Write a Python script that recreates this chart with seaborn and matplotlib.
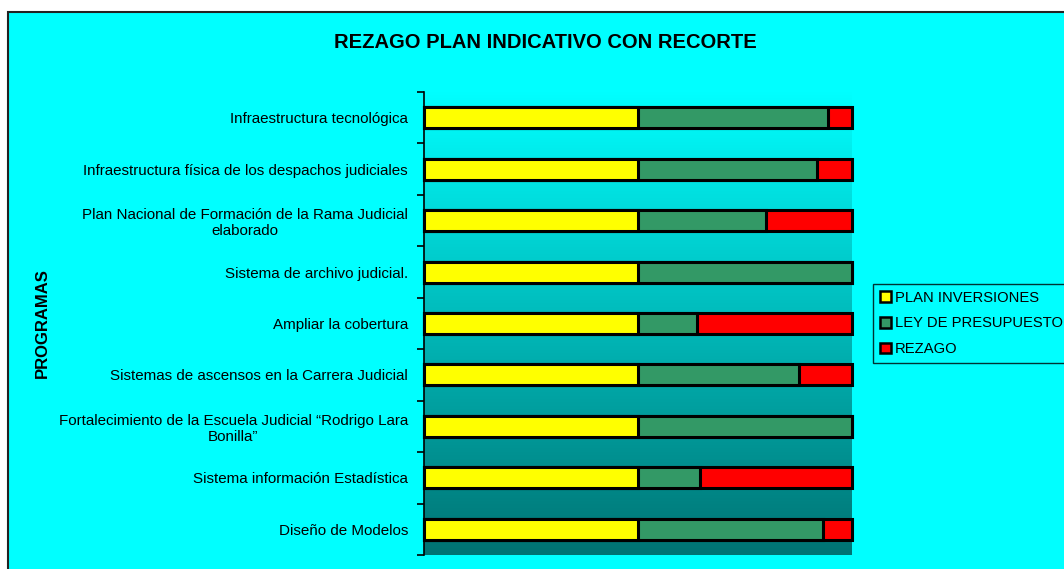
import numpy as np
import pandas as pd
import matplotlib
matplotlib.use("Agg")
import matplotlib.pyplot as plt
from matplotlib.patches import Patch, Rectangle
import seaborn as sns

categories = [
    "Infraestructura tecnológica",
    "Infraestructura física de los despachos judiciales",
    "Plan Nacional de Formación de la Rama Judicial\nelaborado",
    "Sistema de archivo judicial.",
    "Ampliar la cobertura",
    "Sistemas de ascensos en la Carrera Judicial",
    "Fortalecimiento de la Escuela Judicial “Rodrigo Lara\nBonilla”",
    "Sistema información Estadística",
    "Diseño de Modelos",
]
plan_inversiones = [50.0, 50.0, 50.0, 50.0, 50.0, 50.0, 50.0, 50.0, 50.0]
ley_presupuesto = [44.3, 41.9, 30.0, 50.0, 13.9, 37.6, 50.0, 14.5, 43.2]
rezago = [5.7, 8.1, 20.0, 0.0, 36.1, 12.4, 0.0, 35.5, 6.8]
series_names = ["PLAN INVERSIONES", "LEY DE PRESUPUESTO", "REZAGO"]
colors = ["#FFFF00", "#339966", "#FF0000"]

sns.set_style("white")
plt.rcParams["font.family"] = ["Liberation Sans", "DejaVu Sans"]
plt.rcParams["text.color"] = "black"
plt.rcParams["ytick.color"] = "black"
plt.rcParams["ytick.labelcolor"] = "black"

df = pd.DataFrame({
    "cat": categories,
    "plan": plan_inversiones,
    "ley": ley_presupuesto,
    "rez": rezago,
})
df["c1"] = df["plan"]
df["c2"] = df["plan"] + df["ley"]
df["c3"] = df["plan"] + df["ley"] + df["rez"]

W, H = 1064, 569
fig = plt.figure(figsize=(W / 100, H / 100), dpi=100)
fig.patch.set_facecolor("white")
fig.patches.append(Rectangle((7.5 / W, -0.01), 1.02, (H - 11.5) / H + 0.01,
                             transform=fig.transFigure, facecolor="#00FFFF",
                             edgecolor="#222222", linewidth=1.5, zorder=-10))

ax = fig.add_axes([424 / W, 14 / H, 428 / W, 463 / H])
ax.set_facecolor("none")

# gradient background of plot area
grad = np.linspace(0, 1, 256).reshape(-1, 1)
top = np.array([0, 255, 255]) / 255
bot = np.array([0, 115, 115]) / 255
img = top + (bot - top) * grad[:, :, None]
ax.imshow(img, extent=[0, 1, 0, 1], transform=ax.transAxes, aspect="auto", zorder=0)

for col, colr in zip(["c3", "c2", "c1"], colors[::-1]):
    sns.barplot(data=df, y="cat", x=col, orient="h", color=colr, width=0.41,
                edgecolor="black", linewidth=2.2, saturation=1, ax=ax, zorder=2)
for p in ax.patches:
    p.set_clip_on(False)

ax.set_xlim(0, 100)
ax.set_ylim(len(categories) - 0.5, -0.5)
ax.set_xlabel("")
ax.set_ylabel("")
ax.set_xticks([])
for s in ["top", "right", "bottom"]:
    ax.spines[s].set_visible(False)
ax.spines["left"].set_color("black")
ax.spines["left"].set_linewidth(1.2)
ax.spines["left"].set_zorder(3)

ax.set_yticks(range(len(categories)))
ax.set_yticklabels(categories, fontsize=10.9, multialignment="center", color="black")
ax.tick_params(axis="y", which="major", length=0, pad=11.5)
ax.set_yticks(np.arange(-0.5, len(categories) + 0.5, 1), minor=True)
ax.tick_params(axis="y", which="minor", left=True, length=5, width=1.2,
               color="black", direction="out")

fig.text(545 / W, (H - 42) / H, "REZAGO PLAN INDICATIVO CON RECORTE",
         ha="center", va="center", fontsize=14.5, fontweight="bold", color="black")
fig.text(42 / W, (H - 323) / H, "PROGRAMAS", rotation=90,
         ha="center", va="center", fontsize=12, fontweight="bold", color="black")

handles = [Patch(facecolor=c, edgecolor="black", linewidth=1.8) for c in colors]
leg = fig.legend(handles, series_names, loc="upper left",
                 bbox_to_anchor=(873 / W, (H - 284) / H), fontsize=10.6,
                 frameon=True, fancybox=False, handlelength=0.75, handleheight=0.75,
                 handletextpad=0.3, borderpad=0.45, labelspacing=0.8,
                 borderaxespad=0, labelcolor="black")
leg.get_frame().set_facecolor("#00FFFF")
leg.get_frame().set_edgecolor("black")
leg.get_frame().set_linewidth(1.0)

fig.savefig("out.png", dpi=100)
